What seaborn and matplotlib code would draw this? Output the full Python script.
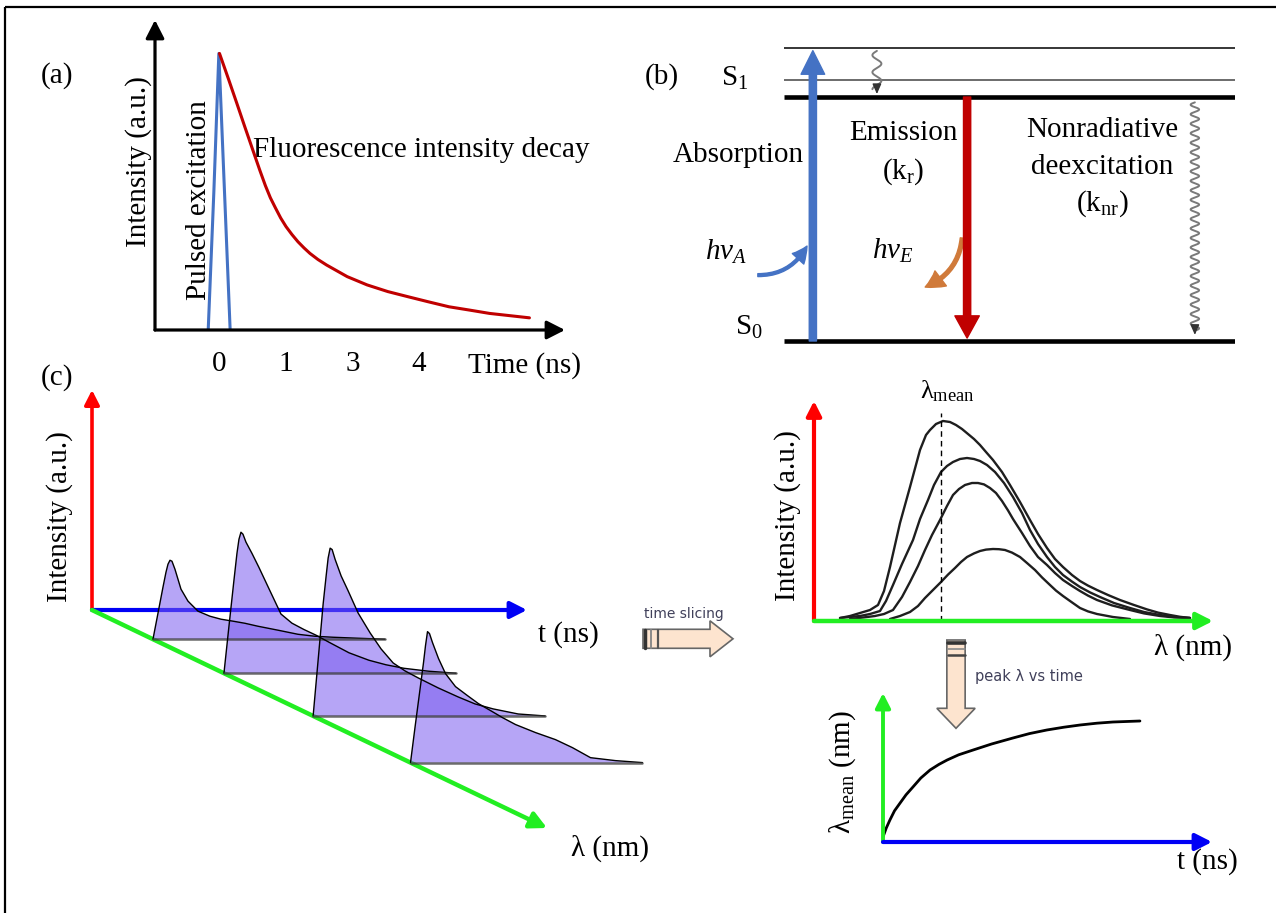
import numpy as np
import matplotlib
matplotlib.use("Agg")
import matplotlib.pyplot as plt
import seaborn as sns
from matplotlib.patches import FancyArrowPatch, FancyArrow, Polygon

# ---------------- data ----------------
# (a) excitation pulse and fluorescence decay (time in ns, normalised intensity)
pulse_time = [-0.17, -0.085, -0.01, 0.075, 0.16]
pulse_intensity = [0.0, 0.5, 1.0, 0.5, 0.0]
decay_time = [0.0, 0.14, 0.26, 0.38, 0.535, 0.61, 0.69, 0.765, 0.84, 0.92, 1.0,
              1.09, 1.18, 1.27, 1.36, 1.48, 1.61, 1.92, 2.22, 2.53, 2.84, 3.14,
              3.45, 3.76, 4.06, 4.66]
decay_intensity = [1.0, 0.904, 0.82, 0.735, 0.627, 0.575, 0.522, 0.478, 0.442,
                   0.405, 0.374, 0.345, 0.319, 0.297, 0.277, 0.255, 0.235,
                   0.193, 0.163, 0.139, 0.12, 0.102, 0.084, 0.072, 0.06, 0.044]
time_ticks = [0, 1, 2, 3]
time_tick_labels = ["0", "1", "3", "4"]

# (b) Jablonski levels (S0 = 0, S1 = 1, two vibrational levels of S1)
level_energy = [0.0, 1.0, 1.07, 1.2]
level_width = [3.3, 3.3, 1.1, 1.1]
level_color = ["black", "black", "#444444", "black"]

# (c) decay profiles recorded at four emission wavelengths
slice_lambda = [0.134, 0.29, 0.486, 0.70]
slice_time = [0, .115, .23, .299, .345, .391, .437, .506, .644, .805, 1.034,
              1.31, 1.563, 1.839, 2.115, 2.414, 2.874, 3.333, 3.724, 4.138,
              4.713, 5.333]
slice_1 = [0, .184, .369, .475, .532, .56, .553, .496, .355, .27, .199, .163,
           .142, .128, .113, .092, .064, .035, .021, .014, .007, 0]
slice_2 = [0, .333, .66, .85, .95, 1.0, .986, .93, .85, .75, .6, .42, .355,
           .31, .27, .22, .145, .092, .06, .035, .014, 0]
slice_3 = [0, .397, .794, .993, 1.12, 1.19, 1.18, 1.11, .993, .887, .73, .589,
           .475, .376, .319, .27, .199, .135, .085, .05, .014, 0]
slice_4 = [0, .277, .546, .709, .83, .929, .915, .851, .738, .631, .539, .475,
           .418, .369, .319, .27, .213, .163, .106, .035, .014, 0]

# time-sliced emission spectra (wavelength in nm, normalised intensity)
spec1_lambda = [413, 418, 423, 428, 432, 435, 438, 443, 448, 453, 456, 458, 461,
                464.5, 468, 471, 474, 477, 480, 483, 486, 489.5, 494, 498, 503,
                508, 512, 516.5, 520.5, 524.5, 529, 533, 537, 541.5, 547, 553,
                560, 566.5, 572, 578, 583, 588]
spec1_int = [0.015, 0.025, 0.04, 0.055, 0.08, 0.15, 0.27, 0.49, 0.67, 0.855,
             0.93, 0.955, 0.985, 1.0, 0.995, 0.98, 0.96, 0.935, 0.91, 0.88,
             0.845, 0.805, 0.745, 0.68, 0.595, 0.505, 0.435, 0.365, 0.31, 0.27,
             0.23, 0.2, 0.177, 0.155, 0.13, 0.105, 0.08, 0.058, 0.042, 0.03,
             0.021, 0.015]
spec2_lambda = [413, 418, 423, 428, 433, 436, 439.5, 444, 449.5, 453, 457, 460,
                463.5, 466.5, 469.5, 473, 476.5, 480, 483, 486.5, 490.5, 495,
                499.5, 504, 508, 512, 516.5, 520.5, 524.5, 529, 533, 538, 543,
                550, 558, 565, 573, 580, 588]
spec2_int = [0.015, 0.02, 0.025, 0.035, 0.05, 0.1, 0.18, 0.285, 0.405, 0.51,
             0.605, 0.68, 0.745, 0.775, 0.795, 0.81, 0.815, 0.81, 0.8, 0.78,
             0.745, 0.69, 0.62, 0.54, 0.455, 0.385, 0.32, 0.27, 0.23, 0.197,
             0.17, 0.143, 0.12, 0.09, 0.065, 0.045, 0.03, 0.02, 0.015]
spec3_lambda = [418, 425, 430.5, 435, 439.5, 444, 448, 452, 455.5, 459, 463,
                466.5, 469.5, 472.5, 475.5, 479, 482, 485, 488, 491, 494, 497,
                499.5, 504, 508, 512, 516.5, 520.5, 524.5, 529, 533, 537, 541.5,
                549, 558, 565, 573, 580, 588]
spec3_int = [0.01, 0.018, 0.025, 0.035, 0.055, 0.12, 0.195, 0.275, 0.355, 0.43,
             0.505, 0.575, 0.63, 0.66, 0.68, 0.69, 0.69, 0.683, 0.665, 0.64,
             0.6, 0.553, 0.51, 0.44, 0.375, 0.32, 0.28, 0.24, 0.205, 0.175,
             0.15, 0.127, 0.105, 0.078, 0.055, 0.038, 0.025, 0.018, 0.015]
spec4_lambda = [438, 443, 448, 452, 455.5, 459.5, 463.5, 467, 470.5, 473.5,
                476.5, 480, 483, 486, 489.5, 492.5, 495.5, 499, 503, 506.5,
                510.5, 514, 518, 521, 524.5, 529, 533, 537, 541.5, 549.5, 558]
spec4_int = [0.01, 0.025, 0.045, 0.075, 0.115, 0.155, 0.195, 0.232, 0.265,
             0.295, 0.32, 0.338, 0.35, 0.357, 0.36, 0.359, 0.355, 0.342, 0.32,
             0.29, 0.255, 0.218, 0.18, 0.152, 0.125, 0.093, 0.065, 0.048,
             0.035, 0.02, 0.01]
lambda_mean = 463.5

# peak wavelength versus time
shift_time = [0, 0.1, 0.21, 0.35, 0.52, 0.7, 0.91, 1.15, 1.43, 1.7, 1.95, 2.3,
              2.74, 3.3, 3.95, 4.45, 4.98, 5.5, 5.99, 6.5, 6.99, 7.81]
shift_lambda = [451.25, 453.5, 455.5, 457.8, 459.75, 461.8, 463.75, 466, 468,
                469.4, 470.5, 471.8, 473, 474.5, 476, 477.1, 478, 478.7, 479.25,
                479.7, 480, 480.25]

# ---------------- style ----------------
W, H = 1276, 913
sns.set_theme(style="white")
plt.rcParams["font.family"] = ["Liberation Serif", "DejaVu Serif"]
plt.rcParams["mathtext.fontset"] = "custom"
plt.rcParams["mathtext.rm"] = "Liberation Serif"
plt.rcParams["mathtext.it"] = "Liberation Serif:italic"
plt.rcParams["mathtext.bf"] = "Liberation Serif:bold"
plt.rcParams["text.color"] = "black"
plt.rcParams["xtick.color"] = "black"
plt.rcParams["axes.labelcolor"] = "black"
FS = 21
SANS = ["DejaVu Sans"]

fig = plt.figure(figsize=(W / 100, H / 100), dpi=100)
canvas = fig.add_axes([0, 0, 1, 1])
canvas.set_xlim(0, W)
canvas.set_ylim(H, 0)
canvas.axis("off")


def px_axes(x0, y0, x1, y1):
    ax = fig.add_axes([x0 / W, 1 - y1 / H, (x1 - x0) / W, (y1 - y0) / H])
    ax.patch.set_alpha(0)
    return ax


def axis_arrow(ax, start, end, color, lw, ms=18, coords="axes fraction",
               hl=0.55, hw=0.28):
    ax.annotate("", xy=end, xytext=start, xycoords=coords, textcoords=coords,
                arrowprops=dict(arrowstyle=f"-|>,head_length={hl},head_width={hw}",
                                color=color, lw=lw, shrinkA=0, shrinkB=0,
                                mutation_scale=ms),
                annotation_clip=False)


# outer frame (top and left edges)
canvas.plot([5, W], [7.5, 7.5], color="black", lw=1.6, solid_capstyle="butt")
canvas.plot([5, 5], [7.5, H], color="black", lw=1.6, solid_capstyle="butt")

# ---------------- (a) fluorescence decay ----------------
axa = px_axes(155, 20, 565, 330)
sns.lineplot(x=pulse_time, y=pulse_intensity, ax=axa, color="#4472C4", lw=2.2,
             estimator=None, sort=False)
sns.lineplot(x=decay_time, y=decay_intensity, ax=axa, color="#C00000", lw=2.2,
             estimator=None, sort=False)
axa.set_xlim(-0.97, 5.195)
axa.set_ylim(0, 1.121)
axa.set_frame_on(False)
axa.set_yticks([])
axa.set_xticks(time_ticks, time_tick_labels)
axa.tick_params(axis="x", length=0, pad=15, labelsize=FS, labelcolor="black")
axa.set_xlabel("")
axa.set_ylabel("")
axis_arrow(axa, (0, 0), (0, 1), "black", 2.3, ms=20)
axis_arrow(axa, (0, 0), (1, 0), "black", 2.3, ms=20)
canvas.text(57, 76, "(a)", fontsize=FS, ha="center", va="center")
canvas.text(139, 162, "Intensity (a.u.)", fontsize=FS, rotation=90,
            ha="center", va="center")
canvas.text(199, 200, "Pulsed excitation", fontsize=FS, rotation=90,
            ha="center", va="center")
canvas.text(253, 150, "Fluorescence intensity decay", fontsize=FS,
            ha="left", va="center")
canvas.text(524, 366, "Time (ns)", fontsize=FS, ha="center", va="center")

# ---------------- (b) Jablonski diagram ----------------
axb = px_axes(784, 30, 1235, 350)
axb.set_xlim(0, 1)
axb.set_ylim((341 - 350) / 244, (341 - 30) / 244)
axb.axis("off")
for e, w, c in zip(level_energy, level_width, level_color):
    axb.plot([0, 1], [e, e], color=c, lw=w, solid_capstyle="butt")

absorb = FancyArrowPatch((0.064, 0.0), (0.064, 1.19),
                         arrowstyle="simple,head_length=0.85,head_width=0.85,tail_width=0.26",
                         mutation_scale=20, color="#4472C4", shrinkA=0, shrinkB=0,
                         zorder=5, clip_on=False)
axb.add_patch(absorb)
emit = FancyArrowPatch((0.406, 1.0), (0.406, 0.012),
                       arrowstyle="simple,head_length=0.8,head_width=0.88,tail_width=0.26",
                       mutation_scale=20, color="#C00000", shrinkA=0, shrinkB=0,
                       zorder=5, clip_on=False)
axb.add_patch(emit)


def wavy(ax, x0, e0, e1, amp, period):
    e = np.linspace(e0, e1 + 0.02, 400)
    x = x0 + amp * np.sin(2 * np.pi * (e - e0) / period)
    ax.plot(x, e, color="#7a7a7a", lw=1.4)
    ax.annotate("", xy=(x0, e1), xytext=(x0, e1 + 0.025),
                arrowprops=dict(arrowstyle="-|>,head_length=0.5,head_width=0.22",
                                color="#333333", lw=1, shrinkA=0, shrinkB=0,
                                mutation_scale=12))


wavy(axb, 0.206, 1.189, 1.012, 0.010, 0.07)
wavy(axb, 0.911, 0.978, 0.025, 0.0095, 0.039)

hv_a = FancyArrowPatch((-0.058, 0.27), (0.051, 0.389), connectionstyle="arc3,rad=0.3",
                       arrowstyle="simple,head_length=0.8,head_width=0.8,tail_width=0.15",
                       mutation_scale=14, color="#4472C4", shrinkA=0, shrinkB=0,
                       clip_on=False)
axb.add_patch(hv_a)
hv_e = FancyArrowPatch((0.395, 0.422), (0.313, 0.221), connectionstyle="arc3,rad=-0.3",
                       arrowstyle="simple,head_length=0.8,head_width=0.85,tail_width=0.17",
                       mutation_scale=16, color="#D07A3A", shrinkA=0, shrinkB=0,
                       clip_on=False)
axb.add_patch(hv_e)

canvas.text(662, 77, "(b)", fontsize=FS, ha="center", va="center")
canvas.text(721, 86, "S$_\\mathrm{1}$", fontsize=FS, ha="left", va="baseline")
canvas.text(735, 335, "S$_\\mathrm{0}$", fontsize=FS, ha="left", va="baseline")
canvas.text(738, 155, "Absorption", fontsize=FS, ha="center", va="center")
canvas.text(903, 133, "Emission", fontsize=FS, ha="center", va="center")
canvas.text(903, 172, "(k$_\\mathrm{r}$)", fontsize=FS, ha="center", va="center")
canvas.text(1102, 130, "Nonradiative", fontsize=FS, ha="center", va="center")
canvas.text(1102, 167, "deexcitation", fontsize=FS, ha="center", va="center")
canvas.text(1102, 204, "(k$_\\mathrm{nr}$)", fontsize=FS, ha="center", va="center")
canvas.text(705, 260, "$h\\nu_A$", fontsize=FS, ha="left", va="baseline")
canvas.text(872, 259, "$h\\nu_E$", fontsize=FS, ha="left", va="baseline")

# ---------------- (c) time-resolved emission surface ----------------
O = np.array([92.0, 610.0])
G = np.array([455.0, 218.0])
T_PX = 43.5
I_PX = 141.0
canvas.text(57, 378, "(c)", fontsize=FS, ha="center", va="center")
axis_arrow(canvas, tuple(O), (92, 390), "#FF0000", 2.6, ms=16, coords="data")
axis_arrow(canvas, tuple(O), (527, 610), "#0000F5", 3.0, ms=18, coords="data")
axis_arrow(canvas, tuple(O), tuple(O + G), "#22EE22", 3.2, ms=18, coords="data")

for lam, inten in zip(slice_lambda, [slice_1, slice_2, slice_3, slice_4]):
    base = O + lam * G
    xs = base[0] + np.array(slice_time) * T_PX
    ys = base[1] - np.array(inten) * I_PX
    canvas.add_patch(Polygon(np.column_stack([xs, ys]), closed=True,
                             facecolor="#7B5CF0", alpha=0.55, edgecolor="none",
                             zorder=3))
    sns.lineplot(x=xs, y=ys, ax=canvas, color="black", lw=1.0, estimator=None,
                 sort=False, zorder=4)
    canvas.plot([xs[0], xs[-1]], [base[1], base[1]], color="#3a3a3a", lw=1.8,
                alpha=0.75, zorder=4)

canvas.text(60, 517, "Intensity (a.u.)", fontsize=FS, rotation=90,
            ha="center", va="center")
canvas.text(568, 635, "t (ns)", fontsize=FS, ha="center", va="center")
canvas.text(610, 848, "λ (nm)", fontsize=FS, ha="center", va="center")

# block arrows
canvas.add_patch(FancyArrow(643, 638.8, 90, 0, width=19, head_width=36,
                            head_length=23, length_includes_head=True,
                            fc="#FDE4CF", ec="#666666", lw=1.2))
for xb, c, w in [(645, "#333333", 2.5), (650.5, "#8a8a8a", 1.4), (657.5, "#555555", 1.6)]:
    canvas.plot([xb, xb], [630, 647.6], color=c, lw=w)
canvas.text(684, 614, "time slicing", fontsize=10, family=SANS,
            color="#40405a", ha="center", va="center")

canvas.add_patch(FancyArrow(956, 640, 0, 88.3, width=18.3, head_width=38.3,
                            head_length=20, length_includes_head=True,
                            fc="#FDE4CF", ec="#666666", lw=1.2))
for yb, c, w in [(643.5, "#333333", 2.6), (649, "#8a8a8a", 1.2), (655, "#444444", 1.8)]:
    canvas.plot([947.5, 964.5], [yb, yb], color=c, lw=w)
canvas.text(975, 677, "peak λ vs time", fontsize=10.5, family=SANS,
            color="#40405a", ha="left", va="center")

# ---------------- time-sliced spectra ----------------
axs = px_axes(814, 401, 1213, 621)
for lx, iy in [(spec1_lambda, spec1_int), (spec2_lambda, spec2_int),
               (spec3_lambda, spec3_int), (spec4_lambda, spec4_int)]:
    sns.lineplot(x=lx, y=iy, ax=axs, color="#1e1e1e", lw=1.7, estimator=None,
                 sort=False)
axs.set_xlim(400, 599.5)
axs.set_ylim(0, 1.10)
axs.axis("off")
axs.plot([lambda_mean, lambda_mean], [0, 1.04], color="black", lw=1.0,
         ls=(0, (4, 3)))
axis_arrow(axs, (0, 0), (0, 1), "#FF0000", 3.0, ms=16)
axis_arrow(axs, (0, 0), (1, 0), "#22EE22", 3.2, ms=18)
canvas.text(947, 398, "$\\mathrm{λ_{mean}}$", fontsize=19, ha="center",
            va="baseline")
canvas.text(788, 516, "Intensity (a.u.)", fontsize=FS, rotation=90,
            ha="center", va="center")
canvas.text(1193, 647, "λ (nm)", fontsize=FS, ha="center", va="center")

# ---------------- peak wavelength versus time ----------------
axl = px_axes(883, 693, 1212, 842)
sns.lineplot(x=shift_time, y=shift_lambda, ax=axl, color="black", lw=2.0,
             estimator=None, sort=False)
axl.set_xlim(0, 10)
axl.set_ylim(450, 487.25)
axl.axis("off")
axis_arrow(axl, (0, 0), (0, 1), "#22EE22", 2.8, ms=16)
axis_arrow(axl, (0, 0), (1, 0), "#0000F5", 3.0, ms=18)
canvas.text(843, 772, "$\\mathrm{λ_{mean}}$ (nm)", fontsize=FS, rotation=90,
            ha="center", va="center")
canvas.text(1207, 862, "t (ns)", fontsize=FS, ha="center", va="center")

fig.savefig("out.png", dpi=100)
